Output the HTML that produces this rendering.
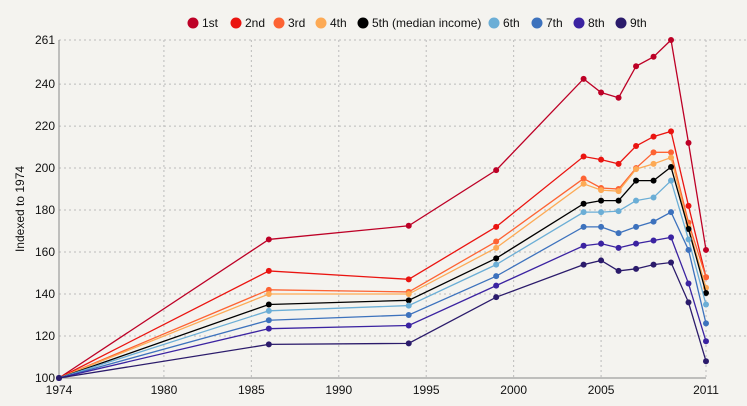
<!DOCTYPE html>
<html><head><meta charset="utf-8"><style>
body{margin:0;background:#f4f3ef;font-family:"Liberation Sans",sans-serif}
svg text{font-family:"Liberation Sans",sans-serif;font-size:12px;fill:#111}
</style></head><body>
<svg id="c" width="747" height="401"></svg>
<script>
const years=[1974,1986,1994,1999,2004,2005,2006,2007,2008,2009,2010,2011];
const seriesNames=["1st","2nd","3rd","4th","5th (median income)","6th","7th","8th","9th"];
const s1=[100,166,172.5,199,242.5,236,233.5,248.5,253,261,212,161];
const s2=[100,151,147,172,205.5,204,202,210.5,215,217.5,182,148];
const s3=[100,142,141,165,195,190.5,190,200,207.5,207.5,174,148];
const s4=[100,140,140,162,192.5,189.5,189,199.5,202,205,172,143];
const s5=[100,135,137,157,183,184.5,184.5,194,194,200.5,171,140.5];
const s6=[100,132,134.5,154,179,179,179.5,184.5,186,194,166,135];
const s7=[100,127.5,130,148.5,172,172,169,172,174.5,179,161,126];
const s8=[100,123.5,125,144,163,164,162,164,165.5,167,145,117.5];
const s9=[100,116,116.5,138.5,154,156,151,152,154,155,136,108];
const xTicks=[1974,1980,1985,1990,1995,2000,2005,2011];
const yTicks=[100,120,140,160,180,200,220,240,261];
const colors=["#bd0026","#ea1410","#fd6333","#fdaa55","#000000","#6baed6","#3d72bd","#3b23a1","#2b1b6b"];
const data=[s1,s2,s3,s4,s5,s6,s7,s8,s9];
const NS="http://www.w3.org/2000/svg",svg=document.getElementById('c');
const X=v=>59+(v-1974)*(706-59)/37, Y=v=>378-(v-100)*(378-40)/161;
function el(t,a,p){const e=document.createElementNS(NS,t);for(const k in a)e.setAttribute(k,a[k]);(p||svg).appendChild(e);return e;}
yTicks.forEach(t=>{
 if(t>100){const g=el('line',{x1:59,x2:747,y1:Y(t),y2:Y(t),stroke:'#bbb','stroke-dasharray':'2,3'});
 
 }
 const tx=el('text',{x:55,y:Y(t)+4,'text-anchor':'end'});tx.textContent=t;
 
 
});
xTicks.forEach(t=>{
 if(t>1974){const g=el('line',{x1:X(t),x2:X(t),y1:40,y2:378,stroke:'#bbb','stroke-dasharray':'2,3'});
 
 }
 const tx=el('text',{x:X(t),y:394,'text-anchor':'middle'});tx.textContent=t;
 
 
});
const ax=el('path',{d:`M59 40V378H706`,stroke:'#888',fill:'none'});


const yt=el('text',{transform:'translate(24,209) rotate(-90)','text-anchor':'middle'});yt.textContent='Indexed to 1974';


data.forEach((s,i)=>{
 const p=el('polyline',{points:s.map((v,j)=>X(years[j])+','+Y(v)).join(' '),fill:'none',stroke:colors[i],'stroke-width':1.3});
 
 
 s.forEach((v,j)=>{const c=el('circle',{cx:X(years[j]),cy:Y(v),r:3,fill:colors[i]});
 
 });
});
const lx=[193,236,279,321,363,494,537,579,621];
seriesNames.forEach((n,i)=>{
 const g=el('g',{});
 
 
 el('circle',{cx:lx[i],cy:23,r:5.5,fill:colors[i]},g);
 const t=el('text',{x:lx[i]+9,y:27},g);t.textContent=n;
});
</script>
</body></html>
